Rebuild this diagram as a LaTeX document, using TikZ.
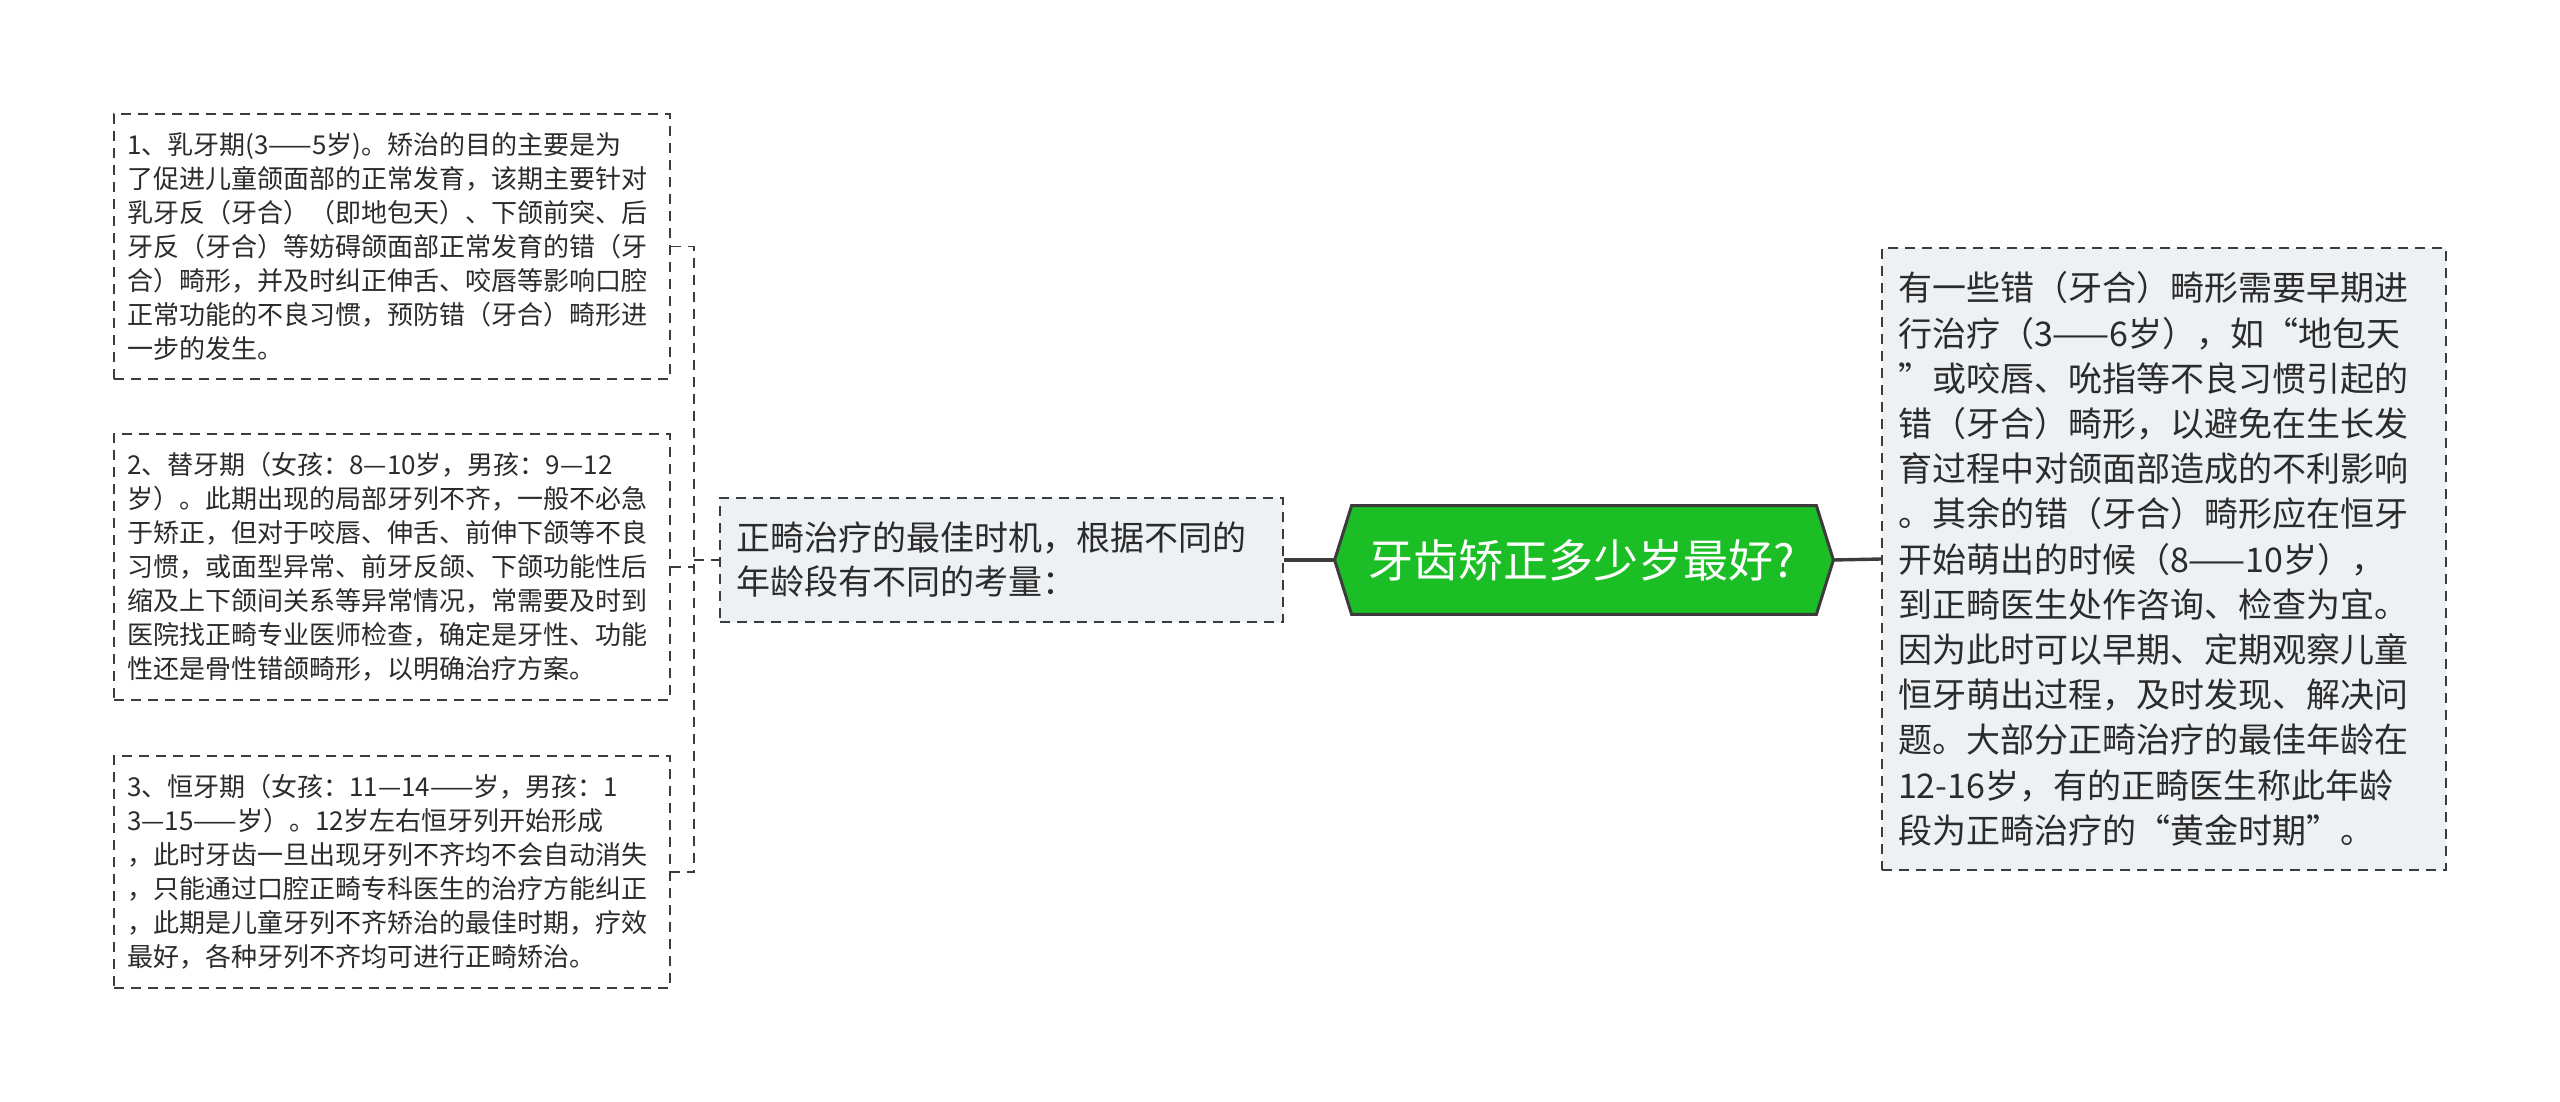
\documentclass[tikz,border=0pt]{standalone}
\usepackage{fontspec}
\setmainfont{Noto Sans CJK SC}
\definecolor{txt}{HTML}{2B2B2B}
\definecolor{edge}{HTML}{3C3C3C}
\definecolor{boxfill}{HTML}{EEF1F4}
\definecolor{rootgreen}{HTML}{1BBE25}
\begin{document}
\begin{tikzpicture}[x=0.5pt,y=-0.5pt,
  leafbox/.style={draw=edge, line width=1pt, dash pattern=on 5pt off 3.5pt, fill=white, rectangle,
    inner xsep=6.5pt, inner ysep=0pt, align=left, text=txt,
    font=\fontsize{13pt}{17pt}\selectfont},
  infobox/.style={draw=edge, line width=1pt, dash pattern=on 5pt off 3.5pt, fill=boxfill, rectangle,
    inner xsep=8pt, inner ysep=0pt, align=left, text=txt,
    font=\fontsize{17pt}{22.6pt}\selectfont},
  conn/.style={draw=edge, line width=0.8pt, dash pattern=on 5pt off 3.5pt},
  mainconn/.style={draw=edge, line width=1.7pt}
]
\useasboundingbox (0,0) rectangle (2560,1102);
\fill[white] (0,0) rectangle (2560,1102);

% left boxes
\node[leafbox, minimum width=278pt, minimum height=132.5pt, text width=265pt] (b1) at (392,246.5) {%
1、乳牙期(3——5岁)。矫治的目的主要是为\\
了促进儿童颌面部的正常发育，该期主要针对\\
乳牙反（牙合）（即地包天）、下颌前突、后\\
牙反（牙合）等妨碍颌面部正常发育的错（牙\\
合）畸形，并及时纠正伸舌、咬唇等影响口腔\\
正常功能的不良习惯，预防错（牙合）畸形进\\
一步的发生。};

\node[leafbox, minimum width=278pt, minimum height=133pt, text width=265pt] (b2) at (392,567) {%
2、替牙期（女孩：8—10岁，男孩：9—12\\
岁）。此期出现的局部牙列不齐，一般不必急\\
于矫正，但对于咬唇、伸舌、前伸下颌等不良\\
习惯，或面型异常、前牙反颌、下颌功能性后\\
缩及上下颌间关系等异常情况，常需要及时到\\
医院找正畸专业医师检查，确定是牙性、功能\\
性还是骨性错颌畸形，以明确治疗方案。};

\node[leafbox, minimum width=278pt, minimum height=116pt, text width=265pt] (b3) at (392,872) {%
3、恒牙期（女孩：11—14——岁，男孩：1\\
3—15——岁）。12岁左右恒牙列开始形成\\
，此时牙齿一旦出现牙列不齐均不会自动消失\\
，只能通过口腔正畸专科医生的治疗方能纠正\\
，此期是儿童牙列不齐矫治的最佳时期，疗效\\
最好，各种牙列不齐均可进行正畸矫治。};

% middle box
\node[infobox, minimum width=281.5pt, minimum height=62pt, text width=265pt, inner xsep=8pt,
  font=\fontsize{17pt}{22pt}\selectfont] (mid) at (1001.5,560) {%
正畸治疗的最佳时机，根据不同的\\
年龄段有不同的考量：};

% right box
\node[infobox, minimum width=282pt, minimum height=311pt, text width=266pt] (right) at (2164,559) {%
有一些错（牙合）畸形需要早期进\\
行治疗（3——6岁），如“地包天\\
”或咬唇、吮指等不良习惯引起的\\
错（牙合）畸形，以避免在生长发\\
育过程中对颌面部造成的不利影响\\
。其余的错（牙合）畸形应在恒牙\\
开始萌出的时候（8——10岁），\\
到正畸医生处作咨询、检查为宜。\\
因为此时可以早期、定期观察儿童\\
恒牙萌出过程，及时发现、解决问\\
题。大部分正畸治疗的最佳年龄在\\
12-16岁，有的正畸医生称此年龄\\
段为正畸治疗的“黄金时期”。};

% root hexagon
\node[minimum width=249pt, minimum height=54pt, inner sep=0pt] (root) at (1584,560) {};
\draw[draw=edge, line width=1.5pt, fill=rootgreen, line join=miter]
  (root.west) -- ([xshift=8.5pt]root.north west) -- ([xshift=-8.5pt]root.north east)
  -- (root.east) -- ([xshift=-8.5pt]root.south east) -- ([xshift=8.5pt]root.south west) -- cycle;
\node[text=white, font=\fontsize{22.5pt}{26pt}\selectfont] (roottext) at (1582,560) {牙齿矫正多少岁最好?};

% main connectors
\draw[mainconn] (root.west) -- (mid.east);
\draw[mainconn] (root.east) -- (right.west);

% left tree connectors
\coordinate (trunk1) at (694,246.5);
\coordinate (trunk2) at (694,567);
\coordinate (trunk3) at (694,872);
\coordinate (trunkm) at (694,560);
\draw[conn] (b1.east) -- (trunk1) -- (trunk3) -- (b3.east);
\draw[conn] (b2.east) -- (trunk2);
\draw[conn] (trunkm) -- (mid.west);
\end{tikzpicture}
\end{document}
